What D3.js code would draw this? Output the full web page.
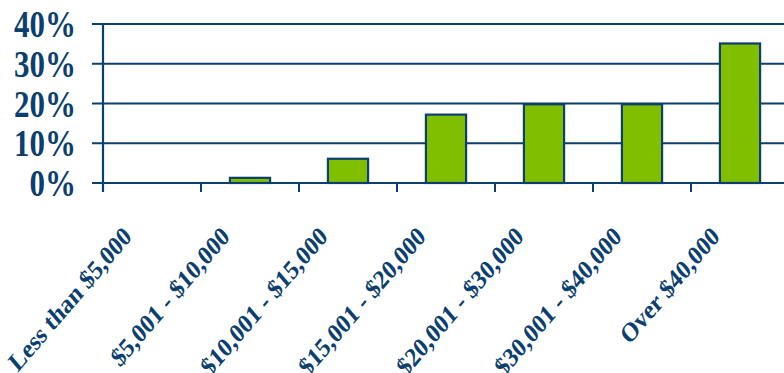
<!DOCTYPE html>
<html>
<head>
<meta charset="utf-8">
<script src="https://cdn.jsdelivr.net/npm/d3@7"></script>
<style>
  body { margin: 0; background: #fff; }
  text { font-family: "Liberation Serif", "Times New Roman", serif; font-weight: bold; fill: #0b3f6f; }
</style>
</head>
<body>
<div id="chart"></div>
<script>
var categories = ["Less than $5,000", "$5,001 - $10,000", "$10,001 - $15,000", "$15,001 - $20,000", "$20,001 - $30,000", "$30,001 - $40,000", "Over $40,000"];
var values = [0, 1.3, 6.1, 17.2, 19.8, 19.8, 35.1];
var yTicks = [0, 10, 20, 30, 40];

var width = 784;
var height = 373;
var blue = "#0b3f6f";
var green = "#80bf00";

var svg = d3.select("#chart").append("svg")
    .attr("width", width)
    .attr("height", height);

var x = d3.scaleBand()
    .domain(categories)
    .range([103, 103 + 7 * 98])
    .paddingInner(0.59)
    .paddingOuter(0.295);

var y = d3.scaleLinear()
    .domain([0, 40])
    .range([183, 24]);

// gridlines
svg.append("g").selectAll("line")
  .data(yTicks)
  .enter()
  .append("line")
  .attr("x1", 92)
  .attr("x2", width)
  .attr("y1", d => y(d))
  .attr("y2", d => y(d))
  .attr("stroke", blue)
  .attr("stroke-width", 2.2);

// y axis line
svg.append("line")
  .attr("x1", 103).attr("x2", 103)
  .attr("y1", y(40)).attr("y2", 192)
  .attr("stroke", blue)
  .attr("stroke-width", 2.2);

// x ticks at band boundaries
var step = x.step();
svg.append("g").selectAll("line")
  .data(categories)
  .enter()
  .append("line")
  .attr("x1", (d, i) => 103 + i * step)
  .attr("x2", (d, i) => 103 + i * step)
  .attr("y1", y(0))
  .attr("y2", 192)
  .attr("stroke", blue)
  .attr("stroke-width", 2);

// bars
svg.append("g").selectAll("rect")
  .data(values)
  .enter()
  .append("rect")
  .attr("x", (d, i) => x(categories[i]))
  .attr("width", x.bandwidth())
  .attr("y", d => y(d))
  .attr("height", d => y(0) - y(d))
  .attr("fill", green)
  .attr("stroke", blue)
  .attr("stroke-width", d => d > 0 ? 2.2 : 0);

// y labels
svg.append("g").selectAll("text")
  .data(yTicks)
  .enter()
  .append("text")
  .attr("transform", d => "translate(76," + y(d) + ") scale(1,1.24)")
  .attr("text-anchor", "end")
  .attr("dy", "0.34em")
  .style("font-size", "31px")
  .text(d => d + "%");

// x labels
svg.append("g").selectAll("text")
  .data(categories)
  .enter()
  .append("text")
  .attr("transform", d => "translate(" + (x(d) + x.bandwidth() / 2 - 19) + ",238) scale(1,1.17) rotate(-45)")
  .attr("text-anchor", "end")
  .style("font-size", "23px")
  .text(d => d);
</script>
</body>
</html>
